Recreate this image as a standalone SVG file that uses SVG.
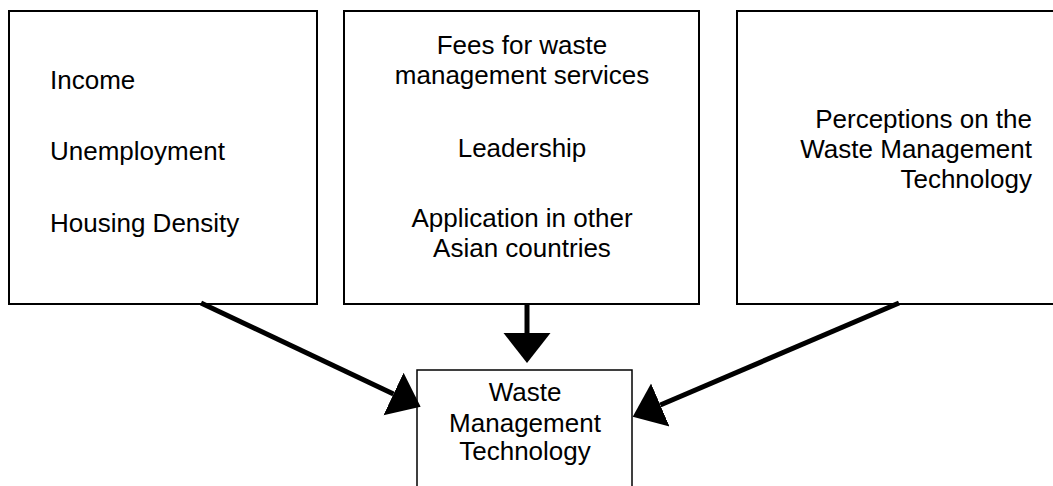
<svg xmlns="http://www.w3.org/2000/svg" width="1053" height="486" viewBox="0 0 1053 486">
  <style>
    .box { fill: #ffffff; stroke: #000000; stroke-width: 2; }
    .label { font-family: "Liberation Sans", Arial, sans-serif; font-size: 26px; fill: #000000; }
    .mid { text-anchor: middle; }
    .end { text-anchor: end; }
    .link { stroke: #000000; stroke-width: 5; fill: none; marker-end: url(#head); }
  </style>
  <defs>
    <marker id="head" markerUnits="userSpaceOnUse" markerWidth="32" markerHeight="50" viewBox="0 -25 32 50" refX="0" refY="0" orient="auto">
      <path d="M0,-23.5 L30,0 L0,23.5 Z" fill="#000000"/>
    </marker>
  </defs>

  <rect width="1053" height="486" fill="#ffffff"/>

  <!-- socio-economic factors -->
  <g id="node-socioeconomic">
    <rect class="box" x="9" y="11" width="308" height="293"/>
    <text class="label" x="50" y="89">Income</text>
    <text class="label" x="50" y="160">Unemployment</text>
    <text class="label" x="50" y="232">Housing Density</text>
  </g>

  <!-- institutional factors -->
  <g id="node-institutional">
    <rect class="box" x="344" y="11" width="355" height="293"/>
    <text class="label mid" x="522" y="54">Fees for waste</text>
    <text class="label mid" x="522" y="84">management services</text>
    <text class="label mid" x="522" y="157">Leadership</text>
    <text class="label mid" x="522" y="227">Application in other</text>
    <text class="label mid" x="522" y="257">Asian countries</text>
  </g>

  <!-- perception factors -->
  <g id="node-perceptions">
    <rect class="box" x="737" y="11" width="340" height="293"/>
    <text class="label end" x="1032" y="128">Perceptions on the</text>
    <text class="label end" x="1032" y="158">Waste Management</text>
    <text class="label end" x="1032" y="188">Technology</text>
  </g>

  <!-- outcome -->
  <g id="node-technology">
    <rect class="box" x="417" y="370" width="215" height="140" style="stroke-width:1.5"/>
    <text class="label mid" x="525" y="401">Waste</text>
    <text class="label mid" x="525" y="432">Management</text>
    <text class="label mid" x="525" y="460">Technology</text>
  </g>

  <!-- influence arrows -->
  <g id="connectors">
    <line class="link" x1="201" y1="303" x2="393.5" y2="393.9"/>
    <line class="link" x1="527" y1="304" x2="527" y2="333"/>
    <line class="link" x1="899" y1="303" x2="660.3" y2="405"/>
  </g>
</svg>
